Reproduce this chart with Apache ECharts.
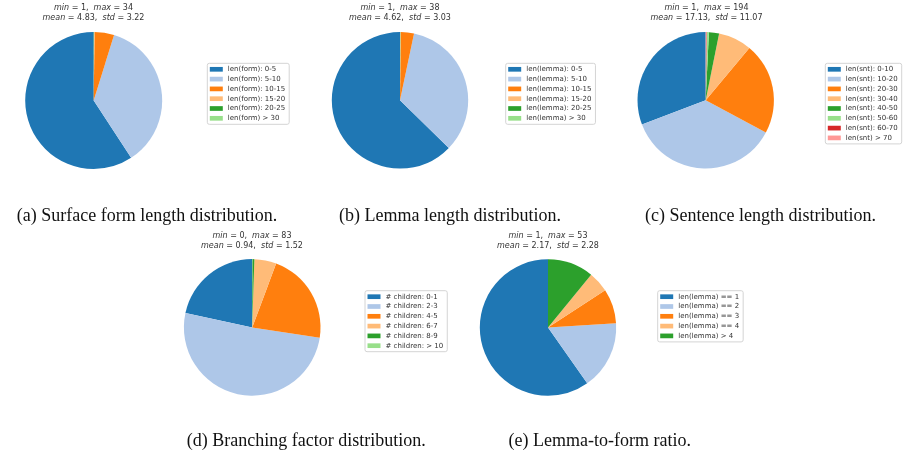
<!DOCTYPE html>
<html><head><meta charset="utf-8">
<script src="https://cdn.jsdelivr.net/npm/echarts@6/dist/echarts.min.js"></script>
<style>html,body{margin:0;padding:0;background:#fff}#c{width:907px;height:454px}</style>
</head><body><div id="c"></div>
<script>
// ---------- data ----------
const formLabels = ['len(form): 0-5','len(form): 5-10','len(form): 10-15','len(form): 15-20','len(form): 20-25','len(form) > 30'];
const formValues = [59.2, 36.0, 4.6, 0.12, 0.05, 0.03];

const lemmaLabels = ['len(lemma): 0-5','len(lemma): 5-10','len(lemma): 10-15','len(lemma): 15-20','len(lemma): 20-25','len(lemma) > 30'];
const lemmaValues = [62.7, 34.0, 3.1, 0.12, 0.05, 0.03];

const sntLabels = ['len(snt): 0-10','len(snt): 10-20','len(snt): 20-30','len(snt): 30-40','len(snt): 40-50','len(snt): 50-60','len(snt): 60-70','len(snt) > 70'];
const sntValues = [30.8, 36.4, 21.75, 7.9, 2.4, 0.45, 0.12, 0.18];

const childLabels = ['# children: 0-1','# children: 2-3','# children: 4-5','# children: 6-7','# children: 8-9','# children: > 10'];
const childValues = [21.6, 51.0, 21.7, 5.2, 0.45, 0.05];

const ratioLabels = ['len(lemma) == 1','len(lemma) == 2','len(lemma) == 3','len(lemma) == 4','len(lemma) > 4'];
const ratioValues = [59.75, 16.25, 8.2, 4.9, 10.9];

const statMin  = ['1', '1', '1', '0', '1'];
const statMax  = ['34', '38', '194', '83', '53'];
const statMean = ['4.83', '4.62', '17.13', '0.94', '2.17'];
const statStd  = ['3.22', '3.03', '11.07', '1.52', '2.28'];

const captions = ['(a) Surface form length distribution.', '(b) Lemma length distribution.',
  '(c) Sentence length distribution.', '(d) Branching factor distribution.', '(e) Lemma-to-form ratio.'];

const tab20 = ['#1f77b4','#aec7e8','#ff7f0e','#ffbb78','#2ca02c','#98df8a','#d62728','#ff9896'];

// ---------- layout ----------
const panels = [
  {labels: formLabels,  values: formValues,  center: [93.7, 100.5], r: 68.5, legend: [207.3, 63.3], title: [93.5, 8],    caption: [147, 216.5]},
  {labels: lemmaLabels, values: lemmaValues, center: [400, 100.3],  r: 68.2, legend: [505.7, 63.3], title: [400, 8],     caption: [450, 216.5]},
  {labels: sntLabels,   values: sntValues,   center: [705.7, 100.3],r: 68.2, legend: [825.3, 63.3], title: [706.5, 8],   caption: [760.5, 216.5]},
  {labels: childLabels, values: childValues, center: [252.2, 327.4],r: 68.3, legend: [365, 290.7],  title: [252, 236],   caption: [306.3, 441.5]},
  {labels: ratioLabels, values: ratioValues, center: [548, 327.5],  r: 68.2, legend: [657.7, 290.7],title: [548, 235.5], caption: [599.7, 441.5]}
];

const series = [], legends = [], graphics = [];
panels.forEach((p, k) => {
  series.push({
    type: 'pie', center: p.center, radius: p.r, startAngle: 90, clockwise: false,
    minAngle: 0, avoidLabelOverlap: false, silent: true, animation: false,
    label: {show: false}, labelLine: {show: false}, emphasis: {disabled: true},
    itemStyle: {borderWidth: 0},
    data: p.labels.map((n, i) => ({name: n, value: p.values[i], itemStyle: {color: tab20[i]}}))
  });
  legends.push({
    orient: 'vertical', left: p.legend[0], top: p.legend[1], data: p.labels,
    icon: 'rect', itemWidth: 13, itemHeight: 4.7, itemGap: 2.8,
    padding: [2.5, 4, 2.5, 2.5], borderColor: '#d4d4d4', borderWidth: 1, borderRadius: 2,
    backgroundColor: '#fff', selectedMode: false,
    textStyle: {fontFamily: 'DejaVu Sans', fontSize: 7, color: '#333', lineHeight: 7}
  });
  const rich = {i: {fontStyle: 'italic', fontFamily: 'DejaVu Sans', fontSize: 8, fill: '#333'}};
  graphics.push({
    type: 'text', x: p.title[0], y: p.title[1], silent: true,
    style: {text: '{i|min} = ' + statMin[k] + ',  {i|max} = ' + statMax[k],
      font: '8px "DejaVu Sans"', fill: '#333', align: 'center', verticalAlign: 'middle', rich: rich}
  });
  graphics.push({
    type: 'text', x: p.title[0], y: p.title[1] + 10, silent: true,
    style: {text: '{i|mean} = ' + statMean[k] + ',  {i|std} = ' + statStd[k],
      font: '8px "DejaVu Sans"', fill: '#333', align: 'center', verticalAlign: 'middle', rich: rich}
  });
  graphics.push({
    type: 'text', x: p.caption[0], y: p.caption[1], silent: true,
    style: {text: captions[k], font: '18px "Liberation Serif"', fill: '#111', align: 'center', verticalAlign: 'middle'}
  });
});

const chart = echarts.init(document.getElementById('c'), null, {renderer: 'canvas'});
chart.setOption({
  animation: false,
  backgroundColor: '#fff',
  legend: legends,
  series: series,
  graphic: graphics
});
</script>
</body></html>
